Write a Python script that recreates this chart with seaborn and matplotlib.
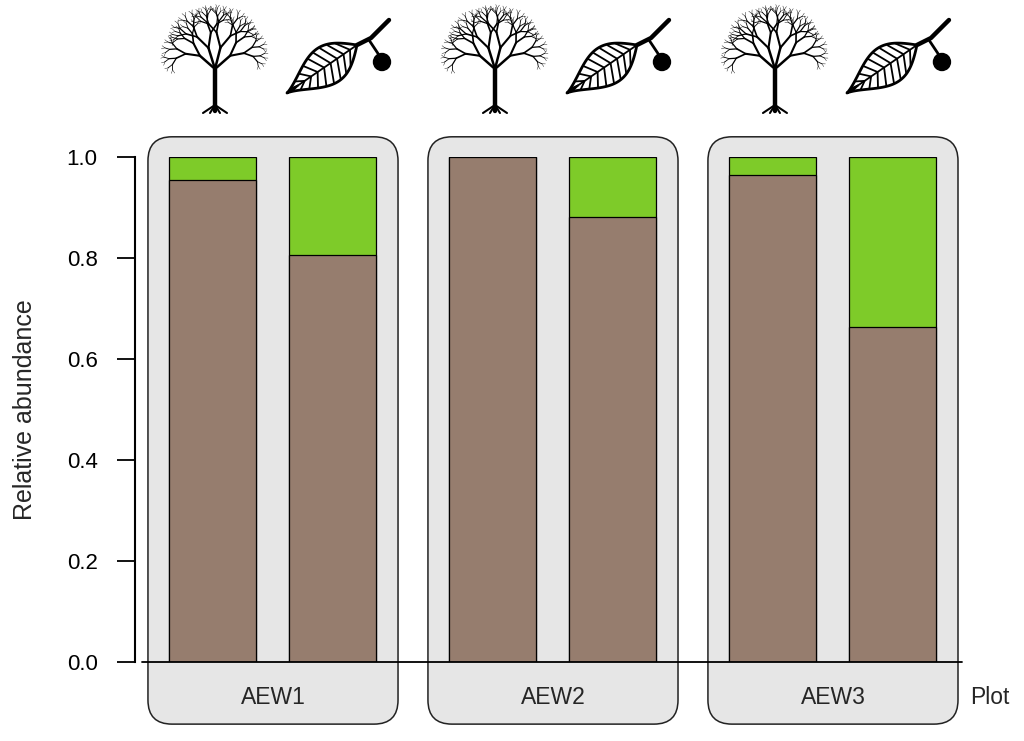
import numpy as np
import pandas as pd
import matplotlib
matplotlib.use('Agg')
import matplotlib.pyplot as plt
import seaborn as sns
from matplotlib.patches import FancyBboxPatch, Polygon, Circle
from matplotlib.collections import LineCollection

# data
plots = ['AEW1', 'AEW2', 'AEW3']
parts = ['tree', 'leaf']
brown_share = [0.954, 0.806, 1.000, 0.881, 0.964, 0.663]
green_share = [0.046, 0.194, 0.000, 0.119, 0.036, 0.337]

BROWN = '#967d6e'
GREEN = '#7ecb29'
PANEL = '#e6e6e6'

df = pd.DataFrame({
    'plot': np.repeat(plots, 2),
    'part': parts * 3,
    'brown': brown_share,
    'green': green_share,
})
# panel spacing 7/3 bar units, bars at +-0.5 around panel centre
df['x'] = [plots.index(p) * 7 / 3 + (-0.5 if q == 'tree' else 0.5)
           for p, q in zip(df['plot'], df['part'])]
df['top'] = df['brown'] + df['green']

sns.set_style('white')
plt.rcParams['font.family'] = ['Liberation Sans', 'DejaVu Sans']

W, H = 1024, 741
fig = plt.figure(figsize=(W / 100, H / 100), dpi=100)
bg = fig.add_axes([0, 0, 1, 1])
bg.set_xlim(0, W)
bg.set_ylim(H, 0)
bg.axis('off')

ax = fig.add_axes([135 / W, (H - 662) / H, (962 - 135) / W, 505 / H])
ax.patch.set_alpha(0)
ax.set_zorder(bg.get_zorder() + 1)

sns.barplot(data=df, x='x', y='top', native_scale=True, width=0.725,
            color=GREEN, saturation=1, edgecolor='black', linewidth=0.9,
            errorbar=None, ax=ax)
sns.barplot(data=df, x='x', y='brown', native_scale=True, width=0.725,
            color=BROWN, saturation=1, edgecolor='black', linewidth=0.9,
            errorbar=None, ax=ax)

ax.set_xlim(-1.15, 5.742)
ax.set_ylim(0, 1)
ax.set_xticks([])
ax.set_xlabel('')
ax.set_ylabel('')
ax.set_yticks(np.arange(0, 1.01, 0.2))
ax.set_yticklabels(['%.1f' % v for v in np.arange(0, 1.01, 0.2)])
ax.tick_params(axis='y', left=True, length=13, width=1.3, pad=14,
               labelsize=16, colors='black')
for s in ['top', 'right', 'bottom']:
    ax.spines[s].set_visible(False)
ax.spines['left'].set_linewidth(1.5)
ax.spines['left'].set_color('black')
ax.axhline(0, xmin=7 / 827, xmax=1, color='black', lw=1.3, clip_on=False)


def to_px(x, y):
    d = ax.transData.transform((x, y))
    return d[0], H - d[1]


# rounded grey panels behind each plot
for i, p in enumerate(plots):
    c = i * 7 / 3
    x0, ytop = to_px(c - 1.042, 1.04)
    x1, ybot = to_px(c + 1.042, -0.123)
    bg.add_patch(FancyBboxPatch((x0, ytop), x1 - x0, ybot - ytop,
                                boxstyle='round,pad=0,rounding_size=24',
                                fc=PANEL, ec='#222222', lw=1.1))
    cx, _ = to_px(c, 0)
    bg.text(cx, 698, p, ha='center', va='center', fontsize=16.5)

bg.text(970, 698, 'Plot', ha='left', va='center', fontsize=16.5)
fig.text(25 / W, 1 - 410 / H, 'Relative abundance', rotation=90,
         ha='center', va='center', fontsize=18)


# icons: tree and beech leaf above each pair of bars
def branch(segs, x, y, ang, length, depth, droop):
    x2 = x + length * np.sin(ang)
    y2 = y - length * np.cos(ang)
    segs.append(((x, y), (x2, y2), 0.3 + 0.3 * depth))
    if depth == 0:
        return
    a = ang + droop * np.sign(ang)
    branch(segs, x2, y2, a - 0.5, length * 0.72, depth - 1, droop)
    branch(segs, x2, y2, a + 0.45, length * 0.7, depth - 1, droop)


def draw_tree(cx, base):
    segs = [((cx, base), (cx, base - 42), 3.2)]
    top = base - 42
    branch(segs, cx, top, -0.85, 20, 5, 0.08)
    branch(segs, cx, top, 0.85, 20, 5, 0.08)
    branch(segs, cx, top, -0.3, 22, 5, 0.0)
    branch(segs, cx, top, 0.25, 22, 5, 0.0)
    for dx in (-12, -5, 5, 12):
        segs.append(((cx, base - 6), (cx + dx, base + 2), 1.5))
    lc = LineCollection([s[:2] for s in segs], linewidths=[s[2] for s in segs],
                        colors='black', capstyle='round')
    bg.add_collection(lc)


def leaf_width(t, L):
    return 0.23 * L * np.sin(np.pi * np.clip(t, 0, 1) ** 1.3)


def draw_leaf(cx):
    tip = np.array([cx - 46, 93.0])
    base = np.array([cx + 24, 45.0])
    u = base - tip
    L = np.hypot(*u)
    u = u / L
    n = np.array([u[1], -u[0]])
    t = np.linspace(0, 1, 60)
    w = leaf_width(t, L)
    upper = tip + np.outer(t * L, u) + np.outer(w, n)
    lower = tip + np.outer(t * L, u) - np.outer(w, n)
    bg.add_patch(Polygon(np.vstack([upper, lower[::-1]]), closed=True,
                         fc='white', ec='black', lw=2.0, joinstyle='round'))
    veins = [[tip, base]]
    for tv in np.linspace(0.16, 0.9, 9):
        te = tv - 0.1
        we = leaf_width(te, L) * 0.97
        m = tip + tv * L * u
        e = tip + te * L * u
        veins.append([m, e + we * n])
        veins.append([m, e - we * n])
    bg.add_collection(LineCollection(veins, colors='black', linewidths=1.3))
    bg.plot([base[0], cx + 38, cx + 56], [base[1], 38, 20], color='black',
            lw=3.2, solid_capstyle='round')
    bg.plot([cx + 36, cx + 46], [40, 55], color='black', lw=2)
    bg.add_patch(Circle((cx + 49, 62), 8.5, fc='black', ec='black'))


for i in range(len(plots)):
    c = i * 7 / 3
    tx, _ = to_px(c - 0.5, 0)
    lx, _ = to_px(c + 0.5, 0)
    draw_tree(tx + 2, 111)
    draw_leaf(lx)

fig.savefig('out.png', dpi=100)
